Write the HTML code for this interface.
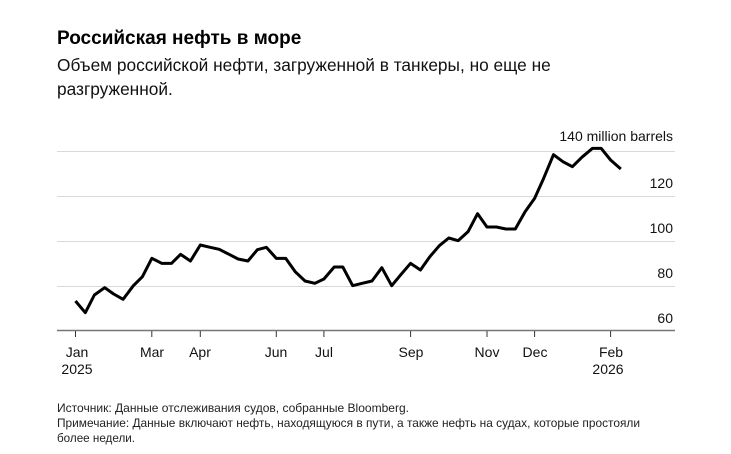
<!DOCTYPE html>
<html><head><meta charset="utf-8"><style>
body{margin:0;background:#fff;width:731px;height:454px;overflow:hidden;font-family:"Liberation Sans",sans-serif;}
svg{position:absolute;left:0;top:0}
</style></head><body>
<svg width="731" height="454" xmlns="http://www.w3.org/2000/svg" font-family="Liberation Sans, sans-serif">
<text x="57" y="44" font-size="19" font-weight="bold" fill="#000">Российская нефть в море</text>
<text x="57" y="71" font-size="17.3" fill="#111">Объем российской нефти, загруженной в танкеры, но еще не</text>
<text x="57" y="95" font-size="17.3" fill="#111">разгруженной.</text>
<g stroke="#d9d9d9" stroke-width="1">
<line x1="57" y1="151.5" x2="675" y2="151.5"/>
<line x1="57" y1="196.5" x2="675" y2="196.5"/>
<line x1="57" y1="241.5" x2="675" y2="241.5"/>
<line x1="57" y1="286.5" x2="675" y2="286.5"/>
</g>
<line x1="57" y1="330.5" x2="675" y2="330.5" stroke="#777" stroke-width="1.5"/>
<g stroke="#333" stroke-width="1">
<line x1="75.5" y1="331" x2="75.5" y2="337"/><line x1="151.8" y1="331" x2="151.8" y2="337"/>
<line x1="200.3" y1="331" x2="200.3" y2="337"/><line x1="276.3" y1="331" x2="276.3" y2="337"/>
<line x1="323.9" y1="331" x2="323.9" y2="337"/><line x1="410.6" y1="331" x2="410.6" y2="337"/>
<line x1="487" y1="331" x2="487" y2="337"/><line x1="534.6" y1="331" x2="534.6" y2="337"/>
<line x1="610.6" y1="331" x2="610.6" y2="337"/>
</g>
<g font-size="14" fill="#111" text-anchor="middle">
<text x="77" y="357">Jan</text><text x="77" y="374">2025</text>
<text x="152" y="357">Mar</text><text x="200" y="357">Apr</text>
<text x="276" y="357">Jun</text><text x="324" y="357">Jul</text>
<text x="411" y="357">Sep</text><text x="487" y="357">Nov</text>
<text x="535" y="357">Dec</text><text x="611" y="357">Feb</text><text x="608" y="374">2026</text>
</g>
<g font-size="14" fill="#111" text-anchor="end">
<text x="673" y="141">140 million barrels</text>
<text x="673" y="188">120</text><text x="673" y="233">100</text>
<text x="673" y="278">80</text><text x="673" y="323">60</text>
</g>
<g transform="translate(50,120) scale(0.41068,0.33333)">
<polyline fill="none" stroke="#000" stroke-width="3" vector-effect="non-scaling-stroke" stroke-linejoin="round" points="62,543 86,578 108,525 133,503 155,522 178,538 203,497 225,470 248,415 272,430 296,430 318,403 342,423 366,375 390,382 412,388 436,403 458,417 482,423 505,389 527,382 551,415 574,415 597,455 621,483 645,490 667,477 692,441 713,441 737,497 760,490 784,483 808,443 832,497 855,463 878,430 902,450 925,410 948,377 971,354 994,362 1018,335 1041,281 1064,321 1087,321 1110,327 1133,327 1157,275 1180,235 1202,175 1226,104 1249,125 1272,140 1295,112 1321,85 1342,85 1365,120 1390,147"/>
</g>
<g font-size="12" fill="#222">
<text x="57" y="412" textLength="352" lengthAdjust="spacingAndGlyphs">Источник: Данные отслеживания судов, собранные Bloomberg.</text>
<text x="57" y="427" textLength="583" lengthAdjust="spacingAndGlyphs">Примечание: Данные включают нефть, находящуюся в пути, а также нефть на судах, которые простояли</text>
<text x="57" y="442" textLength="78" lengthAdjust="spacingAndGlyphs">более недели.</text>
</g>
</svg>
</body></html>
